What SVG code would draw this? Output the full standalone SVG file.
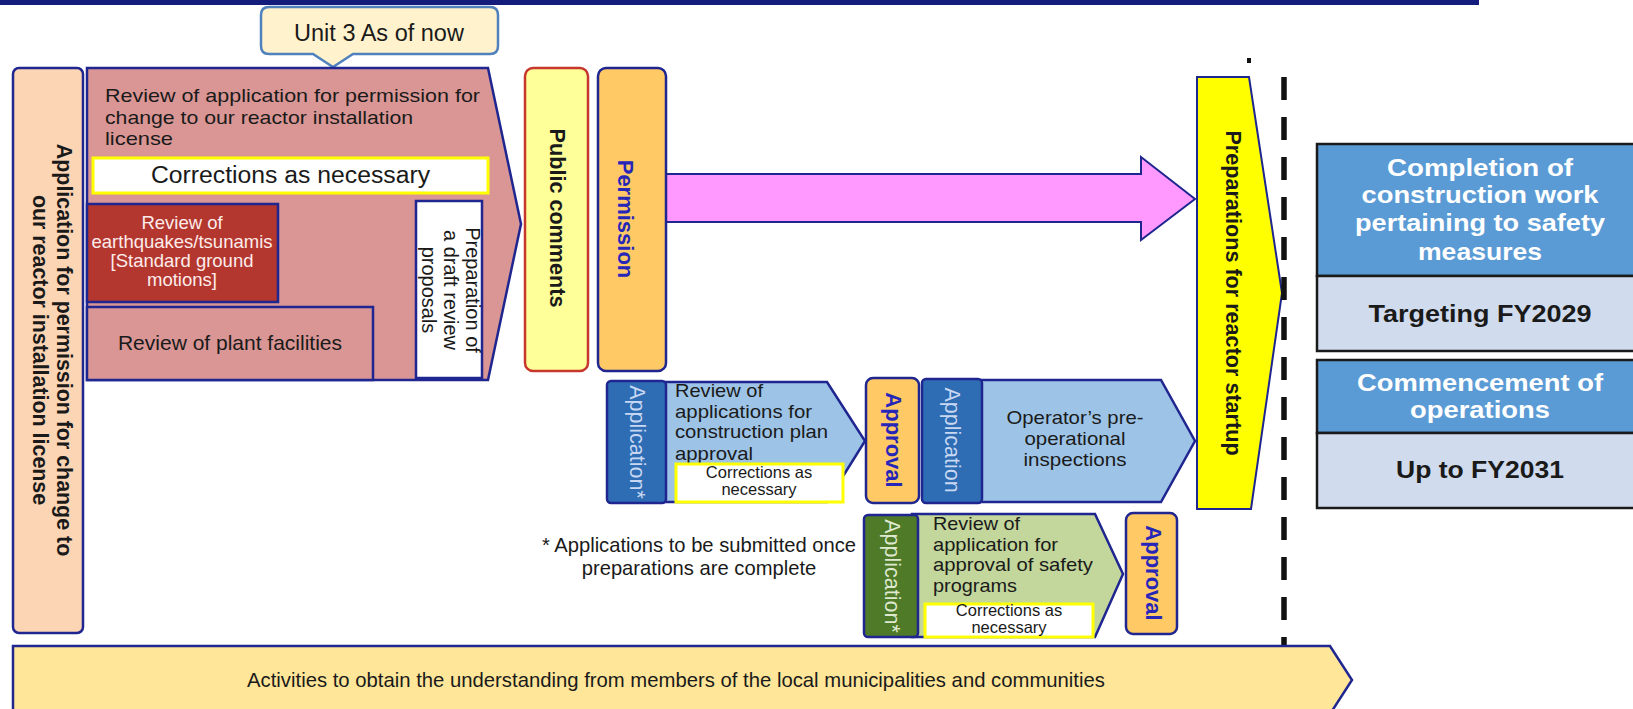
<svg xmlns="http://www.w3.org/2000/svg" width="1633" height="709" viewBox="0 0 1633 709">
<style>
text{font-family:"Liberation Sans",Arial,"DejaVu Sans",sans-serif;fill:#1a1a1a}
.nv{stroke:#1f2690;stroke-width:2.5}
.pk{fill:#d99694}
.org{fill:#ffc966}
.dkb{fill:#2e6db4}
.ltb{fill:#9dc3e6}
.wy{fill:#ffffff;stroke:#ffff00;stroke-width:3}
.b{font-weight:bold}
.mid{text-anchor:middle}
.blu{fill:#2626b8}
.pale{fill:#c9d8f2}
.paleg{fill:#dfe9cf}
.wh{fill:#ffffff}
.hdr{fill:#5b9bd5;stroke:#1a1a1a;stroke-width:2.5}
.low{fill:#d0dcee;stroke:#1a1a1a;stroke-width:2.5}
</style>
<rect x="0" y="0" width="1479" height="5" fill="#141c7c"/>

<g id="connectors">
<polygon id="arrow-permission" points="664,174 1141,174 1141,157 1195,199 1141,240 1141,222 664,222" fill="#ff99ff" stroke="#1f2690" stroke-width="2"/>
</g>

<g id="callout">
<path d="M269,7 H490 Q498,7 498,15 V46 Q498,54 490,54 H353 L333,67 L313,54 H269 Q261,54 261,46 V15 Q261,7 269,7 Z" fill="#fff2cc" stroke="#4f81bd" stroke-width="2.5"/>
<text x="379" y="41" class="mid" font-size="23.5">Unit 3 As of now</text>
</g>

<g id="application-license">
<rect x="13" y="68" width="70" height="565" rx="6" fill="#fcd5b5" class="nv"/>
<text class="b mid" font-size="21.4" transform="translate(57,350) rotate(90)">Application for permission for change to</text>
<text class="b mid" font-size="21.4" transform="translate(33,350) rotate(90)">our reactor installation license</text>
</g>

<g id="review-license">
<polygon points="87,68 488,68 521,224 488,380 87,380" class="pk nv"/>
<text x="105" y="102" font-size="18.5" textLength="375" lengthAdjust="spacingAndGlyphs">Review of application for permission for</text>
<text x="105" y="124" font-size="18.5" textLength="308" lengthAdjust="spacingAndGlyphs">change to our reactor installation</text>
<text x="105" y="145" font-size="18.5" textLength="68" lengthAdjust="spacingAndGlyphs">license</text>
</g>

<g id="corrections-main">
<rect x="93" y="158" width="395" height="35" class="wy"/>
<text x="290.5" y="183" class="mid" font-size="23" textLength="279" lengthAdjust="spacingAndGlyphs">Corrections as necessary</text>
</g>

<g id="review-earthquakes">
<rect x="87" y="204" width="191" height="98" fill="#b3372e" class="nv"/>
<text x="182" y="229" class="mid" font-size="18.5" fill="#fdeceb" style="fill:#fdeceb">Review of</text>
<text x="182" y="248" class="mid" font-size="18.5" style="fill:#fdeceb">earthquakes/tsunamis</text>
<text x="182" y="267" class="mid" font-size="18.5" style="fill:#fdeceb">[Standard ground</text>
<text x="182" y="286" class="mid" font-size="18.5" style="fill:#fdeceb">motions]</text>
</g>

<g id="review-plant">
<rect x="87" y="307" width="286" height="73" class="pk nv"/>
<text x="230" y="350" class="mid" font-size="21">Review of plant facilities</text>
</g>

<g id="draft-review">
<rect x="416" y="201" width="66" height="177" fill="#ffffff" class="nv"/>
<text class="mid" font-size="20" transform="translate(466,290) rotate(90)">Preparation of</text>
<text class="mid" font-size="20" transform="translate(444,290) rotate(90)">a draft review</text>
<text class="mid" font-size="20" transform="translate(422,290) rotate(90)">proposals</text>
</g>

<g id="public-comments">
<rect x="525" y="68" width="63" height="303" rx="8" fill="#ffff99" stroke="#c8372d" stroke-width="2.5"/>
<text class="b mid" font-size="21.6" transform="translate(550,218) rotate(90)">Public comments</text>
</g>

<g id="permission">
<rect x="598" y="68" width="68" height="303" rx="8" class="org nv"/>
<text class="b mid blu" font-size="22" transform="translate(618,219) rotate(90)">Permission</text>
</g>

<g id="reactor-startup">
<polygon points="1197,77 1249,77 1282,293 1251,509 1197,509" fill="#ffff00" stroke="#1f2690" stroke-width="2"/>
<text class="b mid" font-size="21.6" transform="translate(1226,293) rotate(90)">Preparations for reactor startup</text>
</g>

<g id="divider">
<rect x="1247" y="58" width="4" height="5" fill="#111"/>
<line x1="1284" y1="77" x2="1284" y2="646" stroke="#111" stroke-width="5.5" stroke-dasharray="23 17"/>
</g>

<g id="construction-plan">
<polygon points="660,382 827,382 865,441 827,502 660,502" class="ltb nv"/>
<text x="675" y="397" font-size="18.5" textLength="88" lengthAdjust="spacingAndGlyphs">Review of</text>
<text x="675" y="418" font-size="18.5" textLength="137" lengthAdjust="spacingAndGlyphs">applications for</text>
<text x="675" y="438" font-size="18.5" textLength="153" lengthAdjust="spacingAndGlyphs">construction plan</text>
<text x="675" y="460" font-size="18.5" textLength="78" lengthAdjust="spacingAndGlyphs">approval</text>
<rect x="676" y="464" width="167" height="38" class="wy"/>
<text x="759" y="478" class="mid" font-size="16.5">Corrections as</text>
<text x="759" y="495" class="mid" font-size="16.5">necessary</text>
</g>

<g id="application-1">
<rect x="607" y="381" width="59" height="122" rx="4" class="dkb nv"/>
<text class="mid pale" font-size="21.5" transform="translate(630,442) rotate(90)">Application*</text>
</g>

<g id="approval-1">
<rect x="866" y="378" width="53" height="125" rx="7" class="org nv"/>
<text class="b mid blu" font-size="22" transform="translate(886,440) rotate(90)">Approval</text>
</g>

<g id="pre-operational">
<polygon points="975,380 1161,380 1195,441 1161,502 975,502" class="ltb nv"/>
<text x="1075" y="424" class="mid" font-size="18.5" textLength="137" lengthAdjust="spacingAndGlyphs">Operator’s pre-</text>
<text x="1075" y="445" class="mid" font-size="18.5" textLength="101" lengthAdjust="spacingAndGlyphs">operational</text>
<text x="1075" y="466" class="mid" font-size="18.5" textLength="103" lengthAdjust="spacingAndGlyphs">inspections</text>
</g>

<g id="application-2">
<rect x="922" y="379" width="60" height="124" rx="4" class="dkb nv"/>
<text class="mid pale" font-size="21.5" transform="translate(945,440) rotate(90)">Application</text>
</g>

<g id="safety-programs">
<polygon points="912,514 1095,514 1123,574 1095,637 912,637" fill="#c3d69b" class="nv"/>
<text x="933" y="530" font-size="18.5" textLength="87" lengthAdjust="spacingAndGlyphs">Review of</text>
<text x="933" y="550.5" font-size="18.5" textLength="125" lengthAdjust="spacingAndGlyphs">application for</text>
<text x="933" y="571" font-size="18.5" textLength="160" lengthAdjust="spacingAndGlyphs">approval of safety</text>
<text x="933" y="591.5" font-size="18.5" textLength="84" lengthAdjust="spacingAndGlyphs">programs</text>
<rect x="925" y="604" width="168" height="33" class="wy"/>
<text x="1009" y="616" class="mid" font-size="16.5">Corrections as</text>
<text x="1009" y="633" class="mid" font-size="16.5">necessary</text>
</g>

<g id="application-3">
<rect x="864" y="515" width="54" height="122" rx="4" fill="#4f7a28" class="nv"/>
<text class="mid paleg" font-size="21.5" transform="translate(885,576) rotate(90)">Application*</text>
</g>

<g id="approval-2">
<rect x="1126" y="513" width="51" height="121" rx="7" class="org nv"/>
<text class="b mid blu" font-size="22" transform="translate(1146,573) rotate(90)">Approval</text>
</g>

<g id="footnote">
<text x="699" y="552" class="mid" font-size="20.2">* Applications to be submitted once</text>
<text x="699" y="575" class="mid" font-size="20.2">preparations are complete</text>
</g>

<g id="local-activities">
<polygon points="13,646 1330,646 1352,680 1330,714 13,714" fill="#ffe699" class="nv"/>
<text x="676" y="687" class="mid" font-size="20.3">Activities to obtain the understanding from members of the local municipalities and communities</text>
</g>

<g id="completion">
<rect x="1317" y="144" width="340" height="132" class="hdr"/>
<rect x="1317" y="276" width="340" height="75" class="low"/>
<text x="1480" y="175.7" class="b mid wh" font-size="24" textLength="186" lengthAdjust="spacingAndGlyphs">Completion of</text>
<text x="1480" y="203.3" class="b mid wh" font-size="24" textLength="237" lengthAdjust="spacingAndGlyphs">construction work</text>
<text x="1480" y="231" class="b mid wh" font-size="24" textLength="250" lengthAdjust="spacingAndGlyphs">pertaining to safety</text>
<text x="1480" y="260" class="b mid wh" font-size="24" textLength="124" lengthAdjust="spacingAndGlyphs">measures</text>
<text x="1480" y="322" class="b mid" font-size="24" textLength="223" lengthAdjust="spacingAndGlyphs">Targeting FY2029</text>
</g>

<g id="commencement">
<rect x="1317" y="360" width="340" height="73" class="hdr"/>
<rect x="1317" y="433" width="340" height="75" class="low"/>
<text x="1480" y="390.5" class="b mid wh" font-size="24" textLength="246" lengthAdjust="spacingAndGlyphs">Commencement of</text>
<text x="1480" y="418.3" class="b mid wh" font-size="24" textLength="140" lengthAdjust="spacingAndGlyphs">operations</text>
<text x="1480" y="478" class="b mid" font-size="24" textLength="168" lengthAdjust="spacingAndGlyphs">Up to FY2031</text>
</g>
</svg>
